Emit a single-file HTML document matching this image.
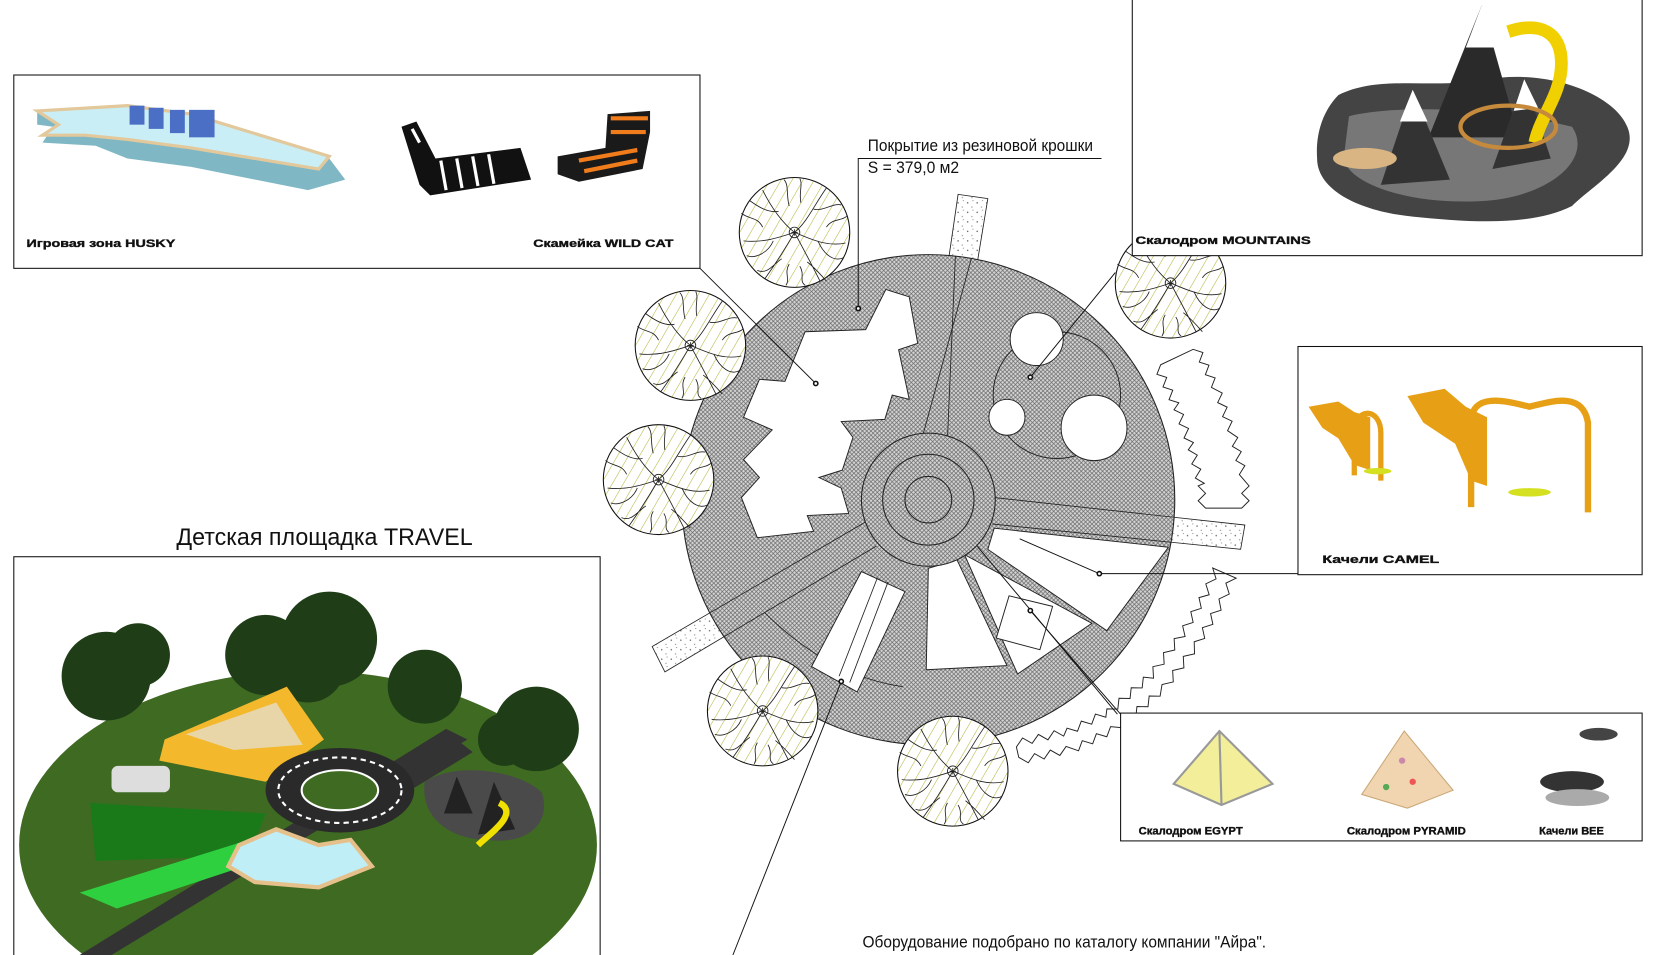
<!DOCTYPE html>
<html><head><meta charset="utf-8"><style>
html,body{margin:0;padding:0;background:#fff;width:1657px;height:955px;overflow:hidden}
svg{display:block}
text{font-family:"Liberation Sans",sans-serif}
.b{font-weight:bold;font-size:10.5px;fill:#111;stroke:#111;stroke-width:0.35}
</style></head><body>
<svg width="1657" height="955" viewBox="0 0 1560 904" preserveAspectRatio="none" xmlns="http://www.w3.org/2000/svg">
<defs>
<pattern id="hatch" width="4" height="4" patternUnits="userSpaceOnUse">
<rect width="4" height="4" fill="#d4d4d4"/>
<path d="M0,0L4,4M4,0L0,4" stroke="#6a6a6a" stroke-width="0.7"/>
</pattern>
<pattern id="dots" width="9" height="9" patternUnits="userSpaceOnUse">
<rect width="9" height="9" fill="#fff"/>
<circle cx="2" cy="3" r="0.7" fill="#666"/><circle cx="6" cy="7" r="0.6" fill="#888"/><circle cx="7" cy="1" r="0.5" fill="#777"/>
</pattern>
<pattern id="olive" width="9" height="9" patternUnits="userSpaceOnUse" patternTransform="rotate(30)">
<rect width="9" height="9" fill="#fff"/>
<line x1="0" y1="0" x2="0" y2="9" stroke="#b5b43a" stroke-width="1"/>
</pattern>
<g id="tree">
<circle r="52" fill="url(#olive)" stroke="#111" stroke-width="1"/>
<g fill="none" stroke="#222" stroke-width="0.8">
<path d="M0,0C-10,-8 -20,-20 -30,-40M0,0C12,-10 18,-25 30,-42M0,0C-15,5 -30,10 -48,8M0,0C15,6 30,14 48,10M0,0C-8,14 -18,30 -28,44M0,0C8,15 16,30 24,46M-15,-20C-25,-18 -35,-25 -42,-30M18,-22C28,-20 36,-28 44,-26M-20,8C-25,20 -38,25 -45,22M22,8C28,22 38,28 46,24M-12,25C-20,30 -25,40 -35,36M12,28C20,34 28,44 30,46M-5,-25C-8,-35 -5,-45 -10,-50M6,-28C4,-38 8,-46 5,-51M-30,-5C-35,-15 -42,-12 -50,-18M30,-5C36,-14 44,-10 50,-16M-5,30C-10,38 -4,44 -8,50M5,32C10,40 4,46 10,50"/>
<circle r="5"/><path d="M-3,0H3M0,-3V3"/>
</g>
</g>
<clipPath id="cc"><circle cx="874" cy="473" r="232"/></clipPath>
</defs>

<polygon points="902,184 930,188 892,420 868,418" fill="url(#dots)" stroke="#222" stroke-width="0.8"/>
<polygon points="936,471 1172,497 1168,520 934,496" fill="url(#dots)" stroke="#222" stroke-width="0.8"/>
<polygon points="815,494 825,517 626,636 614,612" fill="url(#dots)" stroke="#222" stroke-width="0.8"/>

<circle cx="874" cy="473" r="232" fill="url(#hatch)" stroke="#222" stroke-width="1"/>
<g clip-path="url(#cc)" fill="none" stroke="#222" stroke-width="0.8">
<line x1="902" y1="184" x2="892" y2="415"/><line x1="930" y1="188" x2="868" y2="415"/>
<line x1="936" y1="471" x2="1172" y2="497"/><line x1="934" y1="496" x2="1168" y2="520"/>
<line x1="815" y1="494" x2="614" y2="612"/><line x1="825" y1="517" x2="626" y2="636"/>
<path d="M720,580 Q780,640 850,650"/>
</g>
<g fill="#fff" stroke="#222" stroke-width="0.9">
<polygon points="834,274 856,281 864,325 846,331 856,378 840,374 833,397 792,399 803,414 793,445 771,452 792,462 799,486 760,488 766,503 713,509 698,471 715,452 700,435 727,407 700,395 715,359 739,361 758,314 815,312"/>
<circle cx="995" cy="374" r="60" fill="none"/>
<circle cx="976" cy="321" r="25"/>
<circle cx="948" cy="395" r="17"/>
<circle cx="1030" cy="405" r="31"/>
<polygon points="874,538 901,530 948,630 872,634"/>
<polygon points="908,525 1028,590 958,638"/>
<polygon points="936,500 1100,518 1042,597 930,520"/>
<polygon points="950,564 991,574 979,615 938,604"/>
<polygon points="811,541 852,560 807,655 764,631"/>
</g>
<line x1="826" y1="547" x2="790" y2="640" stroke="#222" stroke-width="0.8"/>
<line x1="836" y1="551" x2="800" y2="646" stroke="#222" stroke-width="0.8"/>
<circle cx="874" cy="473" r="63" fill="url(#hatch)" stroke="#222" stroke-width="1"/>
<circle cx="874" cy="473" r="43" fill="none" stroke="#222" stroke-width="1"/>
<circle cx="874" cy="473" r="22" fill="none" stroke="#222" stroke-width="1"/>

<!-- zigzag bands -->
<path id="zz1" d="" fill="#fff" stroke="#222" stroke-width="0.9"/>
<path id="zz2" d="" fill="#fff" stroke="#222" stroke-width="0.9"/>

<use href="#tree" x="748" y="220"/>
<use href="#tree" x="650" y="327"/>
<use href="#tree" x="620" y="454"/>
<use href="#tree" x="718" y="673"/>
<use href="#tree" x="897" y="730"/>
<use href="#tree" x="1102" y="268"/>

<g stroke="#111" stroke-width="0.9" fill="none">
<polyline points="808,292 808,150 1037,150"/>
<line x1="768" y1="363" x2="659" y2="254"/>
<line x1="970" y1="357" x2="1050" y2="258"/>
<polyline points="960,510 1035,543 1222,543"/>
<line x1="970" y1="578" x2="1055" y2="676"/>
<line x1="920" y1="517" x2="1052" y2="676"/>
<line x1="792" y1="645" x2="690" y2="904"/>
</g>
<g fill="#fff" stroke="#111" stroke-width="1.5">
<circle cx="808" cy="292" r="2"/><circle cx="768" cy="363" r="2"/><circle cx="970" cy="357" r="2"/>
<circle cx="1035" cy="543" r="2"/><circle cx="970" cy="578" r="2"/><circle cx="792" cy="645" r="2"/>
</g>

<text x="817" y="143" font-size="15.5" fill="#111" textLength="212" lengthAdjust="spacingAndGlyphs">Покрытие из резиновой крошки</text>
<text x="817" y="164" font-size="15.5" fill="#111" textLength="86" lengthAdjust="spacingAndGlyphs">S = 379,0 м2</text>
<text x="812" y="897" font-size="15.5" fill="#111" textLength="380" lengthAdjust="spacingAndGlyphs">Оборудование подобрано по каталогу компании "Айра".</text>
<text x="166" y="516" font-size="23" fill="#111" textLength="279" lengthAdjust="spacingAndGlyphs">Детская площадка TRAVEL</text>

<!-- Box 1 -->
<rect x="13" y="71" width="646" height="183" fill="#fff" stroke="#111" stroke-width="1"/>
<polygon points="35,107 120,102 180,110 310,150 325,170 290,180 180,158 120,150 90,138 40,135 50,120 35,118" fill="#7fb8c4"/>
<polygon points="35,105 120,100 180,108 310,148 300,160 180,140 120,132 80,128 40,128 55,118" fill="#c9eef5" stroke="#e2c89a" stroke-width="3"/>
<g fill="#4a6fc4"><rect x="122" y="100" width="14" height="18"/><rect x="140" y="102" width="14" height="20"/><rect x="160" y="104" width="14" height="22"/><rect x="178" y="104" width="24" height="26"/></g>
<polygon points="378,120 392,115 410,150 490,140 500,170 405,185 395,175" fill="#111"/>
<g stroke="#fff" stroke-width="3"><line x1="388" y1="122" x2="395" y2="135"/><line x1="415" y1="152" x2="420" y2="180"/><line x1="430" y1="150" x2="435" y2="178"/><line x1="445" y1="148" x2="450" y2="176"/><line x1="460" y1="146" x2="465" y2="174"/></g>
<polygon points="572,108 612,105 612,125 605,160 545,172 525,165 525,148 570,140" fill="#1a1a1a"/>
<g stroke="#f07c1c" stroke-width="4"><line x1="575" y1="112" x2="610" y2="112"/><line x1="575" y1="125" x2="608" y2="125"/><line x1="545" y1="152" x2="600" y2="142"/><line x1="550" y1="162" x2="600" y2="152"/></g>
<text x="25" y="234" class="b" textLength="140" lengthAdjust="spacingAndGlyphs">Игровая зона HUSKY</text>
<text x="502" y="234" class="b" textLength="132" lengthAdjust="spacingAndGlyphs">Скамейка WILD CAT</text>

<!-- Box 2 -->
<rect x="1066" y="-2" width="480" height="244" fill="#fff" stroke="#111" stroke-width="1"/>
<path d="M1260,90 C1300,70 1350,85 1400,75 C1460,65 1520,90 1532,120 C1545,150 1500,175 1480,195 C1440,215 1380,210 1330,205 C1280,200 1240,180 1240,150 C1238,120 1250,100 1260,90Z" fill="#444"/>
<path d="M1270,110 C1310,100 1400,100 1480,120 C1500,150 1460,185 1400,190 C1330,195 1270,175 1265,150Z" fill="#777"/>
<polygon points="1395,5 1345,130 1430,130" fill="#2a2a2a"/><polygon points="1395,5 1380,45 1412,45" fill="#fff"/>
<polygon points="1330,85 1300,175 1365,170" fill="#333"/><polygon points="1330,85 1318,115 1344,115" fill="#fff"/>
<polygon points="1435,75 1405,160 1460,150" fill="#333"/><polygon points="1435,75 1425,105 1448,102" fill="#fff"/>
<path d="M1420,30 C1450,20 1470,30 1470,60 C1470,90 1450,110 1445,135" fill="none" stroke="#f0d000" stroke-width="12"/>
<ellipse cx="1420" cy="120" rx="45" ry="20" fill="none" stroke="#c58a3c" stroke-width="4"/>
<ellipse cx="1285" cy="150" rx="30" ry="10" fill="#d8b583"/>
<text x="1069" y="231" class="b" textLength="165" lengthAdjust="spacingAndGlyphs">Скалодром MOUNTAINS</text>

<!-- Box 3 -->
<rect x="1222" y="328" width="324" height="216" fill="#fff" stroke="#111" stroke-width="1"/>
<path d="M1232,385 L1260,380 L1275,390 L1290,395 L1290,445 L1275,440 L1260,415 L1245,405Z" fill="#e7a016"/>
<path d="M1275,450 L1275,410 C1275,385 1300,385 1300,410 L1300,455" fill="none" stroke="#e7a016" stroke-width="5"/>
<ellipse cx="1297" cy="446" rx="13" ry="3" fill="#d4e020"/>
<path d="M1325,375 L1360,368 L1380,385 L1400,395 L1400,460 L1385,455 L1370,420 L1340,400Z" fill="#e7a016"/>
<path d="M1385,480 L1385,400 C1385,370 1420,380 1440,385 C1460,380 1490,370 1495,400 L1495,485" fill="none" stroke="#e7a016" stroke-width="6"/>
<ellipse cx="1440" cy="466" rx="20" ry="4" fill="#d4e020"/>
<text x="1245" y="533" class="b" textLength="110" lengthAdjust="spacingAndGlyphs">Качели CAMEL</text>

<!-- Box 4 -->
<rect x="1055" y="675" width="491" height="121" fill="#fff" stroke="#111" stroke-width="1"/>
<polygon points="1148,692 1105,742 1150,762 1198,742" fill="#f2ee9a" stroke="#999" stroke-width="2"/>
<line x1="1148" y1="692" x2="1150" y2="762" stroke="#999" stroke-width="2"/>
<polygon points="1322,692 1282,752 1325,765 1368,748" fill="#f0d5b0" stroke="#caa878"/>
<g><circle cx="1320" cy="720" r="3" fill="#c8a"/><circle cx="1330" cy="740" r="3" fill="#e55"/><circle cx="1305" cy="745" r="3" fill="#5a5"/></g>
<ellipse cx="1505" cy="695" rx="18" ry="6" fill="#444"/><ellipse cx="1480" cy="740" rx="30" ry="10" fill="#333"/><ellipse cx="1485" cy="755" rx="30" ry="8" fill="#aaa"/>
<text x="1072" y="790" class="b" font-size="9.5" textLength="98" lengthAdjust="spacingAndGlyphs">Скалодром EGYPT</text>
<text x="1268" y="790" class="b" font-size="9.5" textLength="112" lengthAdjust="spacingAndGlyphs">Скалодром PYRAMID</text>
<text x="1449" y="790" class="b" font-size="9.5" textLength="61" lengthAdjust="spacingAndGlyphs">Качели BEE</text>

<!-- Box 5 -->
<svg x="0" y="520" width="580" height="384" viewBox="0 520 580 384" overflow="hidden">
<rect x="13" y="527" width="552" height="390" fill="#fff" stroke="#111" stroke-width="1"/>
<ellipse cx="290" cy="800" rx="272" ry="165" fill="#3f6a22"/>
<polygon points="75,904 420,690 440,700 105,904" fill="#333"/>
<polygon points="360,740 430,700 445,712 380,752" fill="#333"/>
<g fill="#1f3d16">
<circle cx="100" cy="640" r="42"/><circle cx="130" cy="620" r="30"/>
<circle cx="250" cy="620" r="38"/><circle cx="310" cy="605" r="45"/><circle cx="290" cy="630" r="35"/>
<circle cx="400" cy="650" r="35"/><circle cx="505" cy="690" r="40"/><circle cx="475" cy="700" r="25"/>
</g>
<polygon points="155,700 270,650 305,700 250,740 150,720" fill="#f3b82c"/>
<polygon points="175,695 260,665 285,705 220,710" fill="#e9d6a8"/>
<polygon points="85,760 250,770 235,810 90,815" fill="#1a7a1a"/>
<polygon points="75,845 250,790 245,815 110,860" fill="#2fd040"/>
<ellipse cx="320" cy="748" rx="70" ry="40" fill="#2a2a2a"/>
<ellipse cx="320" cy="748" rx="58" ry="31" fill="none" stroke="#fff" stroke-width="2" stroke-dasharray="5,4"/>
<ellipse cx="320" cy="748" rx="36" ry="19" fill="#3f6a22" stroke="#fff" stroke-width="2"/>
<polygon points="225,800 260,785 300,800 330,795 350,820 300,840 240,835 215,820" fill="#bfeef7" stroke="#e6c08a" stroke-width="4"/>
<path d="M400,740 C430,720 490,730 510,750 C520,780 495,800 460,795 C420,795 395,770 400,740Z" fill="#4a4a4a"/>
<polygon points="430,735 418,770 445,770" fill="#222"/><polygon points="465,740 450,790 485,785" fill="#222"/>
<path d="M470,760 C490,770 460,790 450,800" stroke="#f0e000" stroke-width="6" fill="none"/>
<rect x="105" y="725" width="55" height="25" fill="#ddd" rx="6"/>
</svg>
</svg>
<script>
function band(pts,w,amp,step){
  var L=[],R=[],k=0;
  for(var i=0;i<pts.length-1;i++){
    var a=pts[i],b=pts[i+1],dx=b[0]-a[0],dy=b[1]-a[1],len=Math.hypot(dx,dy),n=Math.max(1,Math.round(len/step));
    var nx=-dy/len,ny=dx/len;
    for(var j=0;j<n;j++){
      var t=j/n,x=a[0]+dx*t,y=a[1]+dy*t,o=(k%2?amp:0);k++;
      L.push([x+nx*(w/2+o),y+ny*(w/2+o)]);R.push([x-nx*(w/2+o),y-ny*(w/2+o)]);
    }
  }
  var p=L.concat(R.reverse());
  return "M"+p.map(function(q){return q[0].toFixed(1)+","+q[1].toFixed(1)}).join("L")+"Z";
}
document.getElementById("zz1").setAttribute("d",band([[1108,338],[1128,380],[1142,420],[1152,460],[1152,488]],34,7,7));
document.getElementById("zz2").setAttribute("d",band([[958,712],[1010,700],[1050,680],[1090,645],[1120,605],[1143,565],[1156,535]],10,7,8));
</script>
</body></html>
